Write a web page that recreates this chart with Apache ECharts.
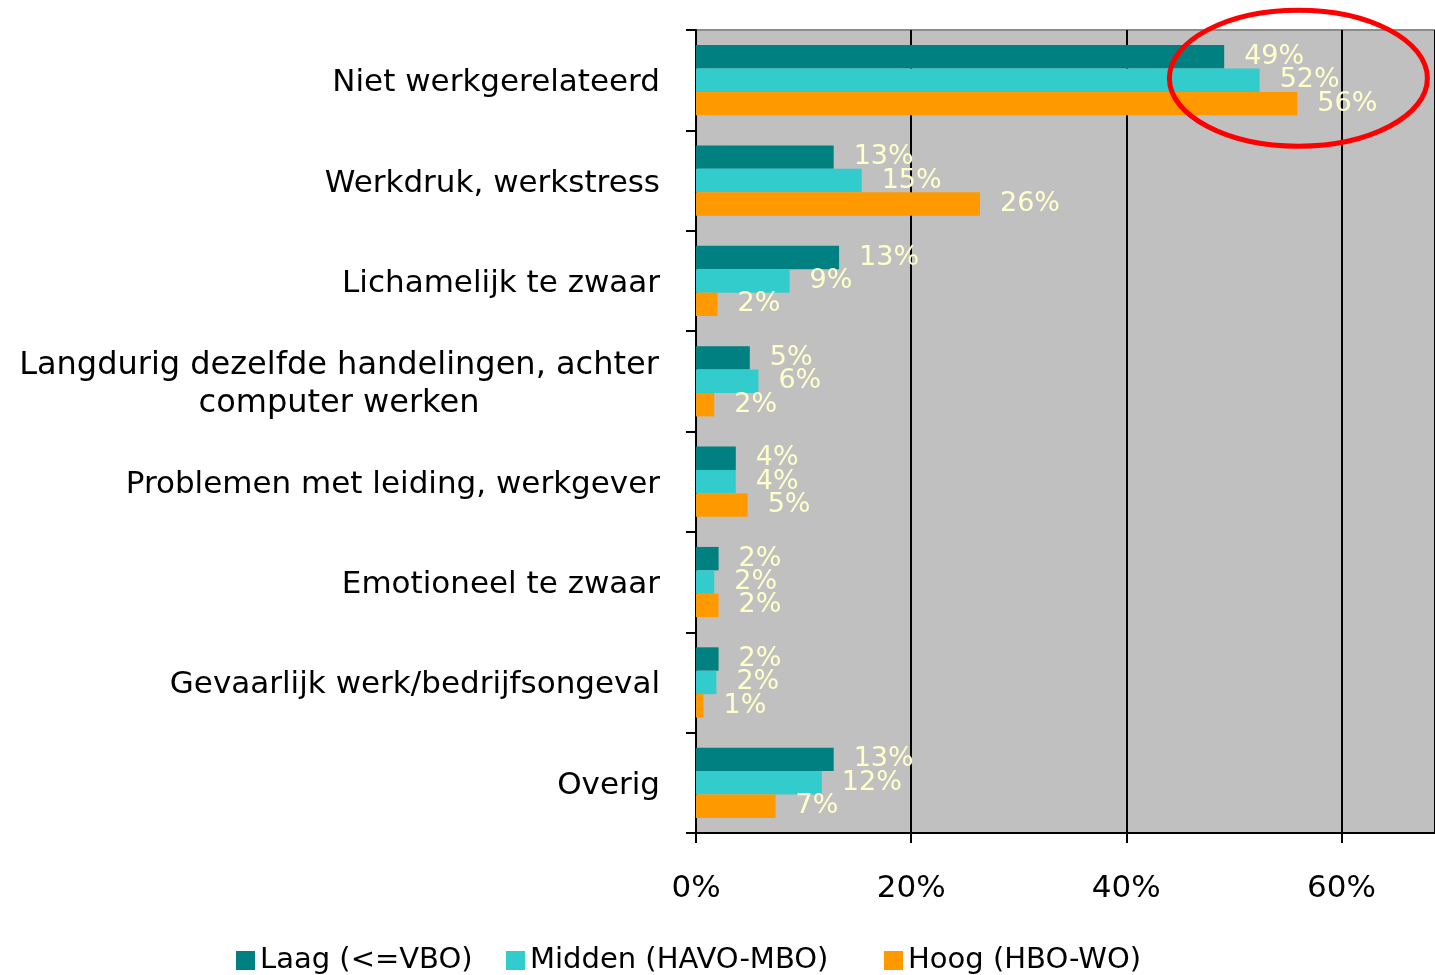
<!DOCTYPE html>
<html>
<head>
<meta charset="utf-8">
<script src="https://cdn.jsdelivr.net/npm/echarts@6/dist/echarts.min.js"></script>
<style>
  html, body { margin: 0; padding: 0; background: #fff; }
  #chart { width: 1435px; height: 975px; }
</style>
</head>
<body>
<div id="chart"></div>
<script>
const categories = [
  'Niet werkgerelateerd',
  'Werkdruk, werkstress',
  'Lichamelijk te zwaar',
  'Langdurig dezelfde handelingen, achter\ncomputer werken',
  'Problemen met leiding, werkgever',
  'Emotioneel te zwaar',
  'Gevaarlijk werk/bedrijfsongeval',
  'Overig'
]
const seriesNames = ['Laag (<=VBO)', 'Midden (HAVO-MBO)', 'Hoog (HBO-WO)']
const laag = [49.1, 12.8, 13.3, 5.0, 3.7, 2.1, 2.1, 12.8]
const midden = [52.4, 15.4, 8.7, 5.8, 3.7, 1.7, 1.9, 11.7]
const hoog = [55.9, 26.4, 2.0, 1.7, 4.8, 2.1, 0.7, 7.4]
const tickValues = [0, 20, 40, 60]
const colors = ['#008080', '#33CCCC', '#FF9900']

const font = 'DejaVu Sans, Liberation Sans, Arial'
const chart = echarts.init(document.getElementById('chart'))

const labelStyle = {
  show: true,
  position: 'right',
  distance: 20,
  color: '#FFFFCC',
  fontFamily: font,
  fontSize: 27,
  formatter: p => Math.round(p.value) + '%'
}

function makeSeries(name, data, color) {
  return {
    name: name,
    type: 'bar',
    data: data,
    barGap: '0%',
    barCategoryGap: '30%',
    itemStyle: { color: color },
    label: labelStyle
  }
}

// one legend per item so the spacing follows the original
const legendLefts = [231, 501, 879]
const legends = seriesNames.map((name, i) => ({
  data: [name],
  left: legendLefts[i],
  top: 941,
  icon: 'rect',
  itemWidth: 19,
  itemHeight: 19,
  textStyle: { fontFamily: font, fontSize: 29, color: '#000' }
}))

const option = {
  animation: false,
  color: colors,
  grid: {
    left: 696,
    right: 0,
    top: 30,
    bottom: 142,
    show: true,
    backgroundColor: '#C0C0C0',
    borderColor: '#8C8C8C',
    borderWidth: 2
  },
  legend: legends,
  xAxis: {
    type: 'value',
    min: 0,
    max: 68.7,
    interval: 20,
    axisLine: { show: true, lineStyle: { color: '#000', width: 2 } },
    axisTick: { show: true, length: 10, lineStyle: { color: '#000', width: 2 } },
    axisLabel: {
      margin: 40,
      color: '#000',
      fontFamily: font,
      fontSize: 31,
      showMaxLabel: false,
      formatter: v => tickValues.includes(v) ? v + '%' : ''
    },
    splitLine: { show: true, lineStyle: { color: '#000', width: 2 } }
  },
  yAxis: {
    type: 'category',
    inverse: true,
    data: categories,
    axisLine: { show: true, lineStyle: { color: '#000', width: 2 } },
    axisTick: { show: true, length: 10, lineStyle: { color: '#000', width: 2 } },
    axisLabel: {
      margin: 36,
      padding: [6, 0, 0, 0],
      color: '#000',
      fontFamily: font,
      fontSize: 31,
      lineHeight: 38,
      formatter: v => v.includes('\n')
        ? v.split('\n').map(s => '{c|' + s + '}').join('\n')
        : v,
      rich: {
        c: { width: 642, align: 'center', fontFamily: font, fontSize: 32, lineHeight: 38, color: '#000' }
      }
    }
  },
  series: [
    makeSeries(seriesNames[0], laag, colors[0]),
    makeSeries(seriesNames[1], midden, colors[1]),
    makeSeries(seriesNames[2], hoog, colors[2])
  ]
}

chart.setOption(option)

// red ellipse highlighting the top category
const c = chart.convertToPixel({ gridIndex: 0 }, [56, categories[0]])
chart.setOption({
  graphic: [{
    type: 'ellipse',
    shape: { cx: c[0], cy: c[1] - 2, rx: 129, ry: 68 },
    style: { fill: 'none', stroke: '#FF0000', lineWidth: 5 },
    z: 100
  }]
})
</script>
</body>
</html>
